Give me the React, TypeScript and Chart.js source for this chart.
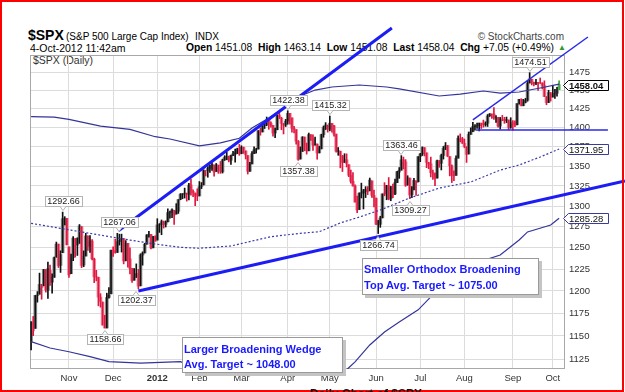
import React, { useEffect, useRef } from 'react';
import { Chart, registerables } from 'chart.js';
Chart.register(...registerables);

const FONT = '"Liberation Sans", Arial, Helvetica, sans-serif';

// ---- daily bars, 6-Oct-2011 .. 4-Oct-2012 (one entry per trading day) ----
const prevClose0 = 1144.0;
const opens = [
  1144.1,1165.0,1158.2,1194.6,1196.2,1207.0,1205.7,1224.5,1200.8,1223.5,1209.9,1215.4,1238.7,1254.2,1229.2,1244.0,1284.4,1285.0,
  1251.0,1219.6,1238.3,1260.8,1253.2,1261.1,1275.2,1229.6,1240.1,1263.9,1251.7,1257.8,1236.6,1216.2,1215.6,1193.0,1187.5,1161.4,1158.7,1192.6,1196.7,
  1246.9,1246.0,1244.3,1257.2,1258.1,1260.9,1234.5,1255.1,1236.8,1225.7,1212.1,1216.1,1219.7,1205.7,1241.3,1243.7,1254.0,1265.0,1265.4,1249.8,1262.8,
  1258.9,1277.0,1277.3,1280.9,1277.8,1280.8,1292.0,1292.5,1294.8,1290.2,1293.7,1308.1,1314.5,1315.3,1316.0,1314.4,1326.3,1318.3,1316.2,1313.5,
  1312.5,1324.2,1326.2,1344.3,1344.3,1347.0,1350.0,1351.2,1343.1,1351.3,1350.5,1342.6,1358.1,1361.2,1362.1,1357.5,1363.5,1365.2,1367.6,1372.2,
  1365.9,1374.1,1369.6,1363.6,1343.4,1352.7,1366.0,1370.8,1371.9,1396.0,1394.2,1402.6,1404.2,1409.6,1405.5,1402.9,1392.8,1397.1,1416.6,1412.5,1405.4,1403.3,
  1408.5,1419.0,1413.1,1398.8,1397.5,1382.2,1359.0,1368.8,1387.6,1370.3,1369.6,1390.8,1385.1,1377.0,1378.5,1367.0,1372.1,1390.6,1400.2,1403.3,
  1397.9,1405.5,1402.3,1391.5,1368.8,1369.2,1363.2,1354.6,1358.1,1351.9,1338.4,1330.8,1324.8,1305.1,1295.7,1316.1,1316.0,1318.7,1320.8,1318.9,1331.3,1313.1,
  1309.9,1278.3,1277.8,1285.6,1316.2,1315.0,1325.7,1309.4,1324.0,1314.9,1329.2,1342.4,1344.8,1358.0,1355.4,1325.9,1334.9,1314.1,1320.1,1331.5,1330.1,
  1362.3,1365.8,1373.7,1367.1,1354.7,1353.0,1341.4,1341.3,1334.8,1356.5,1353.7,1363.6,1373.0,1376.5,1362.3,1350.5,1338.4,1338.2,1360.1,1385.9,1385.3,
  1379.3,1375.1,1365.5,1391.0,1394.5,1401.2,1402.3,1402.6,1405.9,1404.4,1403.9,1405.8,1415.8,1417.9,1418.1,1413.1,1413.5,1402.0,1411.1,1410.4,1409.3,1410.1,1400.1,
  1406.5,1404.9,1403.7,1432.1,1437.9,1429.1,1433.6,1436.6,1460.1,1465.4,1461.2,1459.5,1461.1,1460.3,1459.8,1456.9,1441.6,1433.4,1447.1,
  1440.9,1445.0,1446.1,1451.08,
];
const highs = [
  1165.6,1171.4,1194.9,1199.2,1220.3,1207.5,1224.6,1224.5,1233.1,1229.6,1219.5,1239.0,1256.6,1254.2,1246.3,1292.66,1287.1,1285.0,
  1251.0,1242.5,1263.2,1260.8,1261.7,1277.6,1275.2,1246.2,1267.0,1263.9,1264.3,1259.6,1237.7,1223.5,1215.6,1196.8,1187.5,1172.7,1197.4,1203.7,1247.1,
  1251.1,1260.1,1267.06,1266.0,1266.0,1260.9,1258.3,1255.1,1249.9,1225.7,1225.6,1231.0,1224.6,1242.8,1245.1,1255.2,1265.4,1269.4,1265.9,1263.5,1264.1,
  1284.6,1278.7,1283.1,1281.8,1282.0,1296.5,1293.8,1296.8,1294.8,1303.0,1308.1,1315.5,1315.4,1322.3,1316.0,1328.3,1333.5,1320.1,1316.2,1321.4,
  1330.5,1329.2,1345.3,1344.4,1349.2,1351.0,1354.3,1351.2,1353.4,1351.3,1355.9,1359.0,1363.4,1367.8,1362.7,1364.2,1368.9,1371.9,1373.1,1378.0,
  1376.2,1374.5,1369.6,1363.6,1354.9,1368.7,1374.8,1373.0,1396.1,1399.4,1402.6,1405.9,1414.0,1409.6,1407.8,1402.9,1399.2,1416.6,1419.2,1413.7,1405.4,1410.9,
  1422.38,1419.0,1413.1,1401.6,1397.5,1383.0,1374.7,1388.1,1387.6,1379.7,1392.8,1390.8,1390.5,1387.4,1378.5,1375.6,1391.4,1402.1,1406.6,1403.3,
  1415.32,1405.5,1403.1,1391.5,1373.9,1369.2,1363.7,1365.9,1365.7,1351.9,1344.9,1341.8,1326.4,1312.2,1316.4,1328.5,1320.7,1324.1,1324.2,1334.9,1331.3,1319.7,
  1309.9,1282.6,1287.6,1315.1,1329.1,1325.8,1335.5,1324.3,1327.3,1333.7,1343.3,1348.2,1363.46,1361.6,1358.3,1337.8,1334.9,1324.2,1334.4,1331.5,1362.2,
  1366.4,1374.8,1373.9,1367.1,1354.9,1361.5,1345.0,1341.3,1357.7,1357.3,1365.4,1375.3,1380.4,1376.5,1362.3,1351.5,1344.0,1363.1,1389.2,1391.7,1387.2,
  1385.0,1375.1,1394.2,1399.6,1407.1,1404.1,1406.0,1406.0,1405.9,1410.0,1407.7,1417.4,1418.7,1418.1,1426.7,1416.1,1413.5,1413.5,1416.2,1413.6,1414.0,1410.1,1413.1,
  1409.3,1408.8,1432.1,1437.9,1438.7,1437.8,1439.2,1463.8,1474.51,1465.6,1461.5,1465.1,1461.2,1467.1,1460.7,1463.2,1441.6,1450.2,1447.1,
  1457.1,1451.5,1454.3,1463.14,
];
const lows = [
  1135.0,1150.3,1158.2,1187.3,1196.2,1190.6,1205.7,1198.6,1191.5,1206.3,1197.3,1215.4,1238.7,1226.8,1221.1,1244.0,1277.0,1253.2,
  1215.4,1219.6,1234.8,1238.9,1240.8,1255.0,1226.6,1227.7,1240.1,1246.7,1244.3,1235.7,1209.4,1211.4,1183.2,1181.7,1161.8,1158.66,1158.7,1191.8,1196.7,
  1239.7,1243.4,1244.3,1253.0,1244.8,1231.0,1234.5,1227.3,1219.4,1209.5,1212.1,1215.2,1202.37,1205.7,1229.5,1243.7,1254.0,1262.3,1248.6,1249.8,1257.5,
  1258.9,1268.1,1265.3,1273.3,1274.6,1280.8,1285.4,1285.8,1277.6,1290.2,1291.0,1307.8,1309.2,1309.9,1306.1,1307.7,1313.6,1311.7,1300.5,1306.7,
  1312.5,1321.6,1326.2,1337.5,1335.9,1342.0,1344.6,1337.4,1343.1,1340.8,1340.8,1341.2,1357.2,1358.1,1355.5,1352.3,1363.5,1354.9,1366.0,1363.8,
  1365.9,1366.4,1359.1,1340.0,1343.4,1352.7,1365.9,1366.7,1371.9,1390.0,1394.2,1398.8,1402.4,1397.7,1400.6,1388.7,1386.9,1397.1,1412.0,1397.2,1391.6,1401.4,
  1404.5,1404.6,1394.1,1392.9,1378.2,1357.38,1359.0,1368.8,1369.9,1365.4,1369.6,1383.3,1370.3,1377.0,1358.8,1366.8,1372.1,1387.3,1397.4,1394.0,
  1395.7,1393.9,1388.7,1368.0,1363.9,1347.8,1343.1,1354.6,1348.9,1336.6,1328.4,1324.8,1304.9,1292.0,1295.7,1310.0,1296.5,1310.5,1314.2,1318.9,1310.8,1298.9,
  1277.3,1266.74,1274.2,1285.6,1312.7,1307.8,1307.7,1306.6,1310.5,1314.1,1329.2,1334.5,1344.8,1346.5,1324.4,1325.9,1309.27,1310.3,1320.1,1313.3,1330.1,
  1355.7,1363.5,1363.0,1348.0,1346.7,1336.3,1333.3,1325.4,1334.8,1348.5,1345.1,1359.0,1371.2,1362.2,1337.6,1329.2,1331.5,1338.2,1360.1,1381.4,1379.2,
  1373.6,1354.7,1365.5,1391.0,1394.5,1396.6,1398.8,1395.6,1398.8,1400.6,1401.8,1401.5,1414.7,1412.1,1410.9,1406.8,1400.5,1398.0,1409.1,1405.6,1406.6,1397.0,1399.0,
  1396.6,1401.3,1403.7,1431.4,1429.0,1429.1,1433.0,1435.3,1460.1,1457.5,1456.1,1457.9,1450.0,1459.5,1452.1,1441.6,1430.5,1433.4,1435.6,
  1440.9,1439.0,1442.0,1451.08,
];
const closes = [
  1165.0,1155.5,1194.9,1195.5,1207.3,1203.7,1224.6,1200.9,1225.4,1209.9,1215.4,1238.3,1254.2,1229.1,1242.0,1284.6,1285.1,1253.3,
  1218.3,1237.9,1261.2,1253.2,1261.1,1275.9,1229.1,1239.7,1263.9,1251.8,1257.8,1236.9,1216.1,1215.7,1193.0,1188.0,1161.8,1158.7,1192.6,1195.2,1247.0,
  1244.6,1244.3,1257.1,1258.5,1261.0,1234.4,1255.2,1236.5,1225.7,1211.8,1215.8,1219.7,1205.4,1241.3,1243.7,1254.0,1265.3,1265.4,1249.6,1263.0,1257.6,
  1277.1,1277.3,1281.1,1277.8,1280.7,1292.1,1292.5,1295.5,1289.1,1293.7,1308.0,1314.5,1315.4,1316.0,1314.7,1326.1,1318.4,1316.3,1313.0,1312.4,
  1324.1,1325.5,1344.9,1344.3,1347.1,1350.0,1352.0,1342.6,1351.8,1350.5,1343.2,1358.0,1361.2,1362.2,1357.7,1363.5,1365.7,1367.6,1372.2,1365.7,
  1374.1,1369.6,1364.3,1343.4,1352.6,1365.9,1370.9,1371.1,1396.0,1394.3,1402.6,1404.2,1409.8,1405.5,1402.9,1392.8,1397.1,1416.5,1412.5,1405.5,1403.3,1408.5,
  1419.0,1413.4,1399.0,1398.1,1382.2,1358.6,1368.7,1387.6,1370.3,1369.6,1390.8,1385.1,1376.9,1378.5,1366.9,1372.0,1390.7,1400.0,1403.4,1397.9,
  1405.8,1402.3,1391.6,1369.1,1369.6,1363.7,1354.6,1358.0,1353.4,1338.4,1330.7,1324.8,1304.9,1295.2,1316.0,1316.6,1318.9,1320.7,1317.8,1332.4,1313.3,1310.3,
  1278.0,1278.2,1285.5,1315.1,1315.0,1325.7,1308.9,1324.2,1314.9,1329.1,1342.8,1344.8,1358.0,1355.7,1325.5,1335.0,1313.7,1320.0,1331.9,1329.0,1362.2,
  1365.5,1374.0,1367.6,1354.7,1352.5,1341.5,1341.4,1334.8,1356.8,1353.6,1363.7,1372.8,1376.5,1362.7,1350.5,1338.3,1337.9,1360.0,1386.0,1385.3,1379.3,
  1375.1,1365.0,1391.0,1394.2,1401.4,1402.2,1402.8,1405.9,1404.1,1403.9,1405.5,1415.5,1418.2,1418.1,1413.2,1413.5,1402.1,1411.1,1410.4,1409.3,1410.5,1399.5,1406.6,
  1404.9,1403.4,1432.1,1437.9,1429.1,1433.6,1436.6,1460.0,1465.8,1461.2,1459.3,1461.1,1460.3,1460.2,1456.9,1441.6,1433.3,1447.2,1440.7,
  1444.5,1445.8,1451.0,1458.04,
];

// ---- axes ----
const monthIdx = [18, 39, 60, 80, 100, 122, 142, 164, 185, 206, 229, 248];
const monthLbl = ['Nov', 'Dec', '2012', 'Feb', 'Mar', 'Apr', 'May', 'Jun', 'Jul', 'Aug', 'Sep', 'Oct'];
const yTicks = [1125, 1150, 1175, 1200, 1225, 1250, 1275, 1300, 1325, 1350, 1375, 1400, 1425, 1450, 1475];

// ---- overlays (bar index -> price) ----
const smaIdx = [0, 42, 47, 57, 71, 80, 95, 114, 128, 137, 147, 156, 166, 180, 194, 209, 223, 232, 242, 251];
const smaVal = [1279, 1261, 1259, 1255, 1250.4, 1249.3, 1252, 1263, 1267, 1269, 1279.5, 1286.6, 1295.2, 1310, 1322.3, 1330, 1345, 1351.4, 1361.7, 1371.95];
const upIdx = [0, 11, 18, 33, 47, 59, 66, 80, 90, 99, 105, 113, 122, 128, 135, 143, 156, 169, 175, 194, 204, 215, 223, 232, 242, 251];
const upVal = [1414.5, 1414, 1411, 1402, 1397.7, 1388, 1385, 1376, 1380, 1386, 1399.5, 1412.8, 1430, 1442.4, 1450.5, 1454.7, 1457.4, 1454.7, 1452, 1442.4, 1445, 1449.2, 1446.4, 1447.8, 1453.3, 1458.6];
const loIdx = [0, 9, 18, 28, 37, 52, 71, 80, 99, 128, 147, 151, 154, 161, 168, 175, 184, 190, 199, 206, 213, 223, 232, 236, 247, 251];
const loVal = [1143.9, 1137, 1133, 1127.8, 1122.5, 1121, 1122.5, 1115, 1095, 1090, 1108, 1116, 1122.2, 1140.3, 1154.4, 1165.3, 1178.7, 1193.2, 1208.9, 1224, 1233.3, 1241.4, 1259, 1268.7, 1277, 1285.28];

// ---- drawn trend lines ----
const wedgeTopIdx = [41.5, 171.5];
const wedgeTopVal = [1270.1, 1538];
const wedgeBotIdx = [51, 282.3];
const wedgeBotVal = [1199.9, 1331.2];
const smallTopIdx = [210, 264.7];
const smallTopVal = [1410.2, 1525];
const flatIdx = [211.5, 274.2];
const flatVal = [1396.7, 1396.7];

// ---- pivot labels ----
const lblIdx = [15, 35, 42, 50, 122, 127, 142, 165, 176, 180, 237];
const lblVal = [1292.66, 1158.66, 1267.06, 1202.37, 1422.38, 1357.38, 1415.32, 1266.74, 1363.46, 1309.27, 1474.51];
const lblAbove = [true, false, true, false, true, false, true, false, true, false, true];

// ---- right axis value tags ----
const tagVal = [1458.04, 1371.95, 1285.28];
const tagBold = [true, false, false];

const pts = (xs: number[], ys: number[]) => xs.map((x, i) => ({ x, y: ys[i] }));

const T = ({ x, y, size, bold, color = '#000', right, sx = 1, children, style }: any) => (
  <div
    style={{
      position: 'absolute',
      left: right ? undefined : x,
      right: right ? 625 - x : undefined,
      top: y - 0.8465 * size,
      fontSize: size,
      lineHeight: size + 'px',
      fontWeight: bold ? 700 : 400,
      color,
      whiteSpace: 'nowrap',
      fontFamily: FONT,
      transform: sx !== 1 ? `scaleX(${sx})` : undefined,
      transformOrigin: right ? 'right center' : 'left center',
      ...style,
    }}
  >
    {children}
  </div>
);

export default function App() {
  const ref = useRef<HTMLCanvasElement>(null);

  useEffect(() => {
    const n = closes.length;
    const kind = closes.map((c, i) => (i === n - 1 ? 2 : c >= (i === 0 ? prevClose0 : closes[i - 1]) ? 0 : 1));
    const wickCol = ['#111111', '#e0173f', '#3f9e3f'];
    const bodyCol = ['#8c8c8c', '#f08aa0', '#93d493'];

    const annot = {
      id: 'annot',
      beforeDatasetsDraw(chart: any) {
        const { ctx, chartArea: a } = chart;
        ctx.save();
        ctx.strokeStyle = '#a8a8a8';
        ctx.lineWidth = 1;
        ctx.strokeRect(Math.round(a.left) + 0.5, Math.round(a.top) + 0.5, Math.round(a.right - a.left) - 1, Math.round(a.bottom - a.top) - 1);
        ctx.restore();
      },
      afterDatasetsDraw(chart: any) {
        const { ctx } = chart;
        const xs = chart.scales.x, ys = chart.scales.y;
        ctx.save();
        ctx.font = `9px ${FONT}`;
        ctx.textBaseline = 'middle';
        ctx.textAlign = 'center';
        lblIdx.forEach((ix, k) => {
          const px = Math.round(xs.getPixelForValue(ix));
          const py = ys.getPixelForValue(lblVal[k]);
          const txt = lblVal[k].toFixed(2);
          const w = Math.ceil(ctx.measureText(txt).width) + 4;
          const h = 10;
          const above = lblAbove[k];
          const cy = Math.round(above ? py - 11 : py + 11);
          const bx = Math.round(px - w / 2) + 0.5, by = cy - h / 2 + 0.5;
          ctx.fillStyle = '#fff';
          ctx.strokeStyle = '#b4b4b4';
          ctx.lineWidth = 1;
          ctx.fillRect(bx, by, w, h);
          ctx.strokeRect(bx, by, w, h);
          const edge = above ? by + h : by;
          ctx.beginPath();
          ctx.moveTo(px - 3, edge);
          ctx.lineTo(px, above ? edge + 4 : edge - 4);
          ctx.lineTo(px + 3, edge);
          ctx.closePath();
          ctx.fillStyle = '#fff';
          ctx.fill();
          ctx.beginPath();
          ctx.moveTo(px - 3, edge);
          ctx.lineTo(px, above ? edge + 4 : edge - 4);
          ctx.lineTo(px + 3, edge);
          ctx.stroke();
          ctx.fillStyle = '#222';
          ctx.fillText(txt, px + 0.5, cy + 1);
        });
        // right-hand tags
        const x0 = Math.round(chart.chartArea.right) - 2;
        tagVal.forEach((v, k) => {
          const py = Math.round(ys.getPixelForValue(v));
          const bold = tagBold[k];
          ctx.font = `${bold ? 'bold ' : ''}9.5px ${FONT}`;
          const txt = v.toFixed(2);
          const w = Math.ceil(ctx.measureText(txt).width) + 10;
          const h = 10;
          ctx.beginPath();
          ctx.moveTo(x0 + 0.5, py + 0.5);
          ctx.lineTo(x0 + 5.5, py - h / 2 + 0.5);
          ctx.lineTo(x0 + w + 0.5, py - h / 2 + 0.5);
          ctx.lineTo(x0 + w + 0.5, py + h / 2 + 0.5);
          ctx.lineTo(x0 + 5.5, py + h / 2 + 0.5);
          ctx.closePath();
          ctx.fillStyle = '#fff';
          ctx.fill();
          ctx.strokeStyle = bold ? '#000' : '#3a3a9c';
          ctx.lineWidth = 1;
          ctx.stroke();
          ctx.fillStyle = '#111';
          ctx.textAlign = 'left';
          ctx.fillText(txt, x0 + 6, py + 1);
        });
        ctx.restore();
      },
    };

    const lineDs = (data: any, color: string, width: number, order: number, extra: any = {}) => ({
      type: 'line',
      data,
      borderColor: color,
      borderWidth: width,
      pointRadius: 0,
      tension: 0,
      fill: false,
      order,
      ...extra,
    });

    const chart = new Chart(ref.current as HTMLCanvasElement, {
      type: 'bar',
      data: {
        datasets: [
          lineDs(pts(wedgeTopIdx, wedgeTopVal), '#1c1cf5', 3, 0, { clip: false }),
          lineDs(pts(wedgeBotIdx, wedgeBotVal), '#1c1cf5', 3, 0, { clip: false }),
          lineDs(pts(smallTopIdx, smallTopVal), '#2a2ae8', 1.5, 0, { clip: false }),
          lineDs(pts(flatIdx, flatVal), '#2a2ae8', 1.5, 0, { clip: false }),
          lineDs(pts(upIdx, upVal), '#34349a', 1.2, 1),
          lineDs(pts(loIdx, loVal), '#34349a', 1.2, 1),
          lineDs(pts(smaIdx, smaVal), '#3a3aa8', 1.2, 1, { borderDash: [2, 2] }),
          {
            type: 'bar',
            data: highs.map((h, i) => ({ x: i, y: [lows[i], h] })),
            backgroundColor: kind.map((k) => wickCol[k]),
            barThickness: 1,
            grouped: false,
            borderWidth: 0,
            order: 2,
          },
          {
            type: 'bar',
            data: opens.map((o, i) => ({ x: i, y: [Math.min(o, closes[i]), Math.max(o, closes[i])] })),
            backgroundColor: kind.map((k) => bodyCol[k]),
            barThickness: 3,
            grouped: false,
            borderWidth: 0,
            order: 3,
          },
        ] as any,
      },
      options: {
        responsive: false,
        animation: false,
        devicePixelRatio: 1,
        layout: { padding: { left: 30, top: 55, right: 0, bottom: 0 } },
        plugins: { legend: { display: false }, tooltip: { enabled: false }, title: { display: false } },
        scales: {
          x: {
            type: 'linear',
            min: -0.52,
            max: 253.8,
            offset: false,
            afterBuildTicks: (s: any) => {
              s.ticks = monthIdx.map((v) => ({ value: v }));
            },
            afterFit: (s: any) => {
              s.height = 23;
              s.paddingLeft = 0;
              s.paddingRight = 0;
            },
            ticks: {
              autoSkip: false,
              maxRotation: 0,
              padding: 4,
              color: '#333',
              callback: (v: any) => monthLbl[monthIdx.indexOf(Number(v))] ?? '',
              font: (c: any) => ({
                family: FONT,
                size: 9.5,
                weight: c.tick && c.tick.value === 60 ? 'bold' : 'normal',
              }),
            },
            grid: { color: '#dcdcdc', drawTicks: false, lineWidth: 1, offset: false },
            border: { display: false },
          },
          y: {
            type: 'logarithmic',
            position: 'right',
            min: 1114.7,
            max: 1499.3,
            bounds: 'data',
            afterBuildTicks: (s: any) => {
              s.ticks = yTicks.map((v) => ({ value: v }));
            },
            afterFit: (s: any) => {
              s.width = 60;
              s.paddingTop = 0;
              s.paddingBottom = 0;
            },
            ticks: {
              autoSkip: false,
              padding: 4,
              color: '#333',
              font: { family: FONT, size: 9.5 },
              callback: (v: any) => String(v),
            },
            grid: { color: '#dcdcdc', drawTicks: false, lineWidth: 1 },
            border: { display: false },
          },
        },
      } as any,
      plugins: [annot],
    });
    return () => chart.destroy();
  }, []);

  return (
    <div style={{ position: 'fixed', left: 0, top: 0, width: 625, height: 392, background: '#fff', overflow: 'hidden', fontFamily: FONT }}>
      {/* header */}
      <T x={28} y={40} size={14} bold>$SPX</T>
      <T x={66} y={40} size={10}>(S&amp;P 500 Large Cap Index)</T>
      <T x={195} y={40} size={10}>INDX</T>
      <T x={564} y={40} size={10} right color="#444">© StockCharts.com</T>
      <T x={30} y={52} size={10.5}>4-Oct-2012 11:42am</T>
      <T x={554} y={52} size={10.3} right>
        <b>Open</b> 1451.08&nbsp; <b>High</b> 1463.14&nbsp; <b>Low</b> 1451.08&nbsp; <b>Last</b> 1458.04&nbsp; <b>Chg</b> +7.05 (+0.49%)
      </T>
      <T x={558} y={51} size={8} color="#2e9a2e">▲</T>
      <T x={33} y={64} size={10.5} color="#333">$SPX (Daily)</T>

      <canvas ref={ref} width={625} height={392} style={{ position: 'absolute', left: 0, top: 0, width: 625, height: 392 }} />

      {/* text boxes */}
      <div style={{ position: 'absolute', left: 362, top: 258, width: 177, height: 37, border: '1px solid #9a9a9a', background: '#fff', boxShadow: '3px 3px 0 #c4c4c4', boxSizing: 'border-box' }} />
      <T x={363.5} y={273} size={11.6} bold color="#1a1aff" sx={0.95}>Smaller Orthodox Broadening</T>
      <T x={363.5} y={289} size={11.6} bold color="#1a1aff" sx={0.95}>Top Avg. Target ~ 1075.00</T>

      <div style={{ position: 'absolute', left: 182, top: 337, width: 161, height: 36, border: '1px solid #9a9a9a', background: '#fff', boxShadow: '3px 3px 0 #c4c4c4', boxSizing: 'border-box' }} />
      <T x={183.5} y={352.5} size={11.6} bold color="#1a1aff" sx={0.95}>Larger Broadening Wedge</T>
      <T x={183.5} y={368.3} size={11.6} bold color="#1a1aff" sx={0.95}>Avg. Target ~ 1048.00</T>

      <div style={{ position: 'absolute', left: 0, top: 0, width: 624, height: 392, border: '2px solid #ff0000', boxSizing: 'border-box', pointerEvents: 'none' }} />
      <T x={310} y={398} size={12} bold color="#111">Daily Chart of $SPX</T>
    </div>
  );
}
